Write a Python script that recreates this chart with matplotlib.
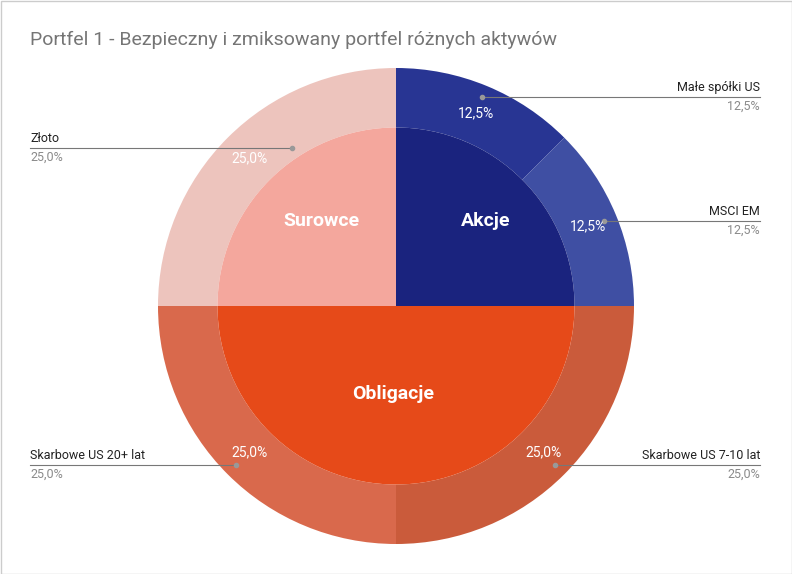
import matplotlib.pyplot as plt
from matplotlib.patches import Rectangle

plt.rcParams['font.family'] = ['Roboto', 'DejaVu Sans']

inner_labels = ['Akcje', 'Obligacje', 'Surowce']
inner_values = [25, 50, 25]
inner_colors = ['#1a237e', '#e64a19', '#f4a79d']

outer_labels = ['Małe spółki US', 'MSCI EM', 'Skarbowe US 7-10 lat', 'Skarbowe US 20+ lat', 'Złoto']
outer_values = [12.5, 12.5, 25.0, 25.0, 25.0]
outer_colors = ['#283593', '#3f4fa3', '#ca5b3b', '#d9694c', '#edc4bd']

W, H = 792, 574
fig = plt.figure(figsize=(W / 100, H / 100), dpi=100)
cx, cy, R = 396, 306, 238
ax = fig.add_axes([(cx - R) / W, (H - cy - R) / H, 2 * R / W, 2 * R / H])

ax.pie(outer_values, colors=outer_colors, startangle=90, counterclock=False,
       radius=1.0, wedgeprops=dict(width=0.25, linewidth=0))
ax.pie(inner_values, colors=inner_colors, startangle=90, counterclock=False,
       radius=0.75, wedgeprops=dict(linewidth=0))
ax.set_xlim(-1, 1)
ax.set_ylim(-1, 1)
ax.set_aspect('equal')
ax.axis('off')

# inner labels (pixel positions)
inner_pos = [(486, 221), (393, 394), (321, 221)]
for (x, y), lab in zip(inner_pos, inner_labels):
    fig.text(x / W, 1 - y / H, lab, color='white', fontsize=14, fontweight='bold',
             ha='center', va='center')

# outer value labels
val_pos = [(476, 113), (588, 226), (543, 452), (249, 452), (249, 158)]
for (x, y), v in zip(val_pos, outer_values):
    fig.text(x / W, 1 - y / H, f'{v:.1f}%'.replace('.', ','), color='white',
             fontsize=10, ha='center', va='center')

# leader lines and side labels
dots = [(482, 97), (604, 221), (555, 465), (236, 465), (292, 148)]
sides = ['r', 'r', 'r', 'l', 'l']
for (x, y), side, lab, v in zip(dots, sides, outer_labels, outer_values):
    xe = 760 if side == 'r' else 30
    fy = 1 - y / H
    fig.add_artist(plt.Line2D([x / W, xe / W], [fy, fy], color='#777777', lw=0.8))
    fig.add_artist(plt.Line2D([x / W], [fy], marker='o', ms=3, color='#999999'))
    ha = 'right' if side == 'r' else 'left'
    fig.text(xe / W, fy + 3 / H, lab, ha=ha, va='bottom', fontsize=9, color='#222222')
    fig.text(xe / W, fy - 3 / H, f'{v:.1f}%'.replace('.', ','), ha=ha, va='top',
             fontsize=9, color='#8a8a8a')

fig.text(30 / W, 1 - 40 / H, 'Portfel 1 - Bezpieczny i zmiksowany portfel różnych aktywów',
         fontsize=14, color='#757575', ha='left', va='center')
fig.add_artist(Rectangle((0.5 / W, 0.5 / H), 1 - 1 / W, 1 - 1 / H, transform=fig.transFigure,
                         fill=False, ec='#cccccc', lw=1))

fig.savefig('out.png', dpi=100)
